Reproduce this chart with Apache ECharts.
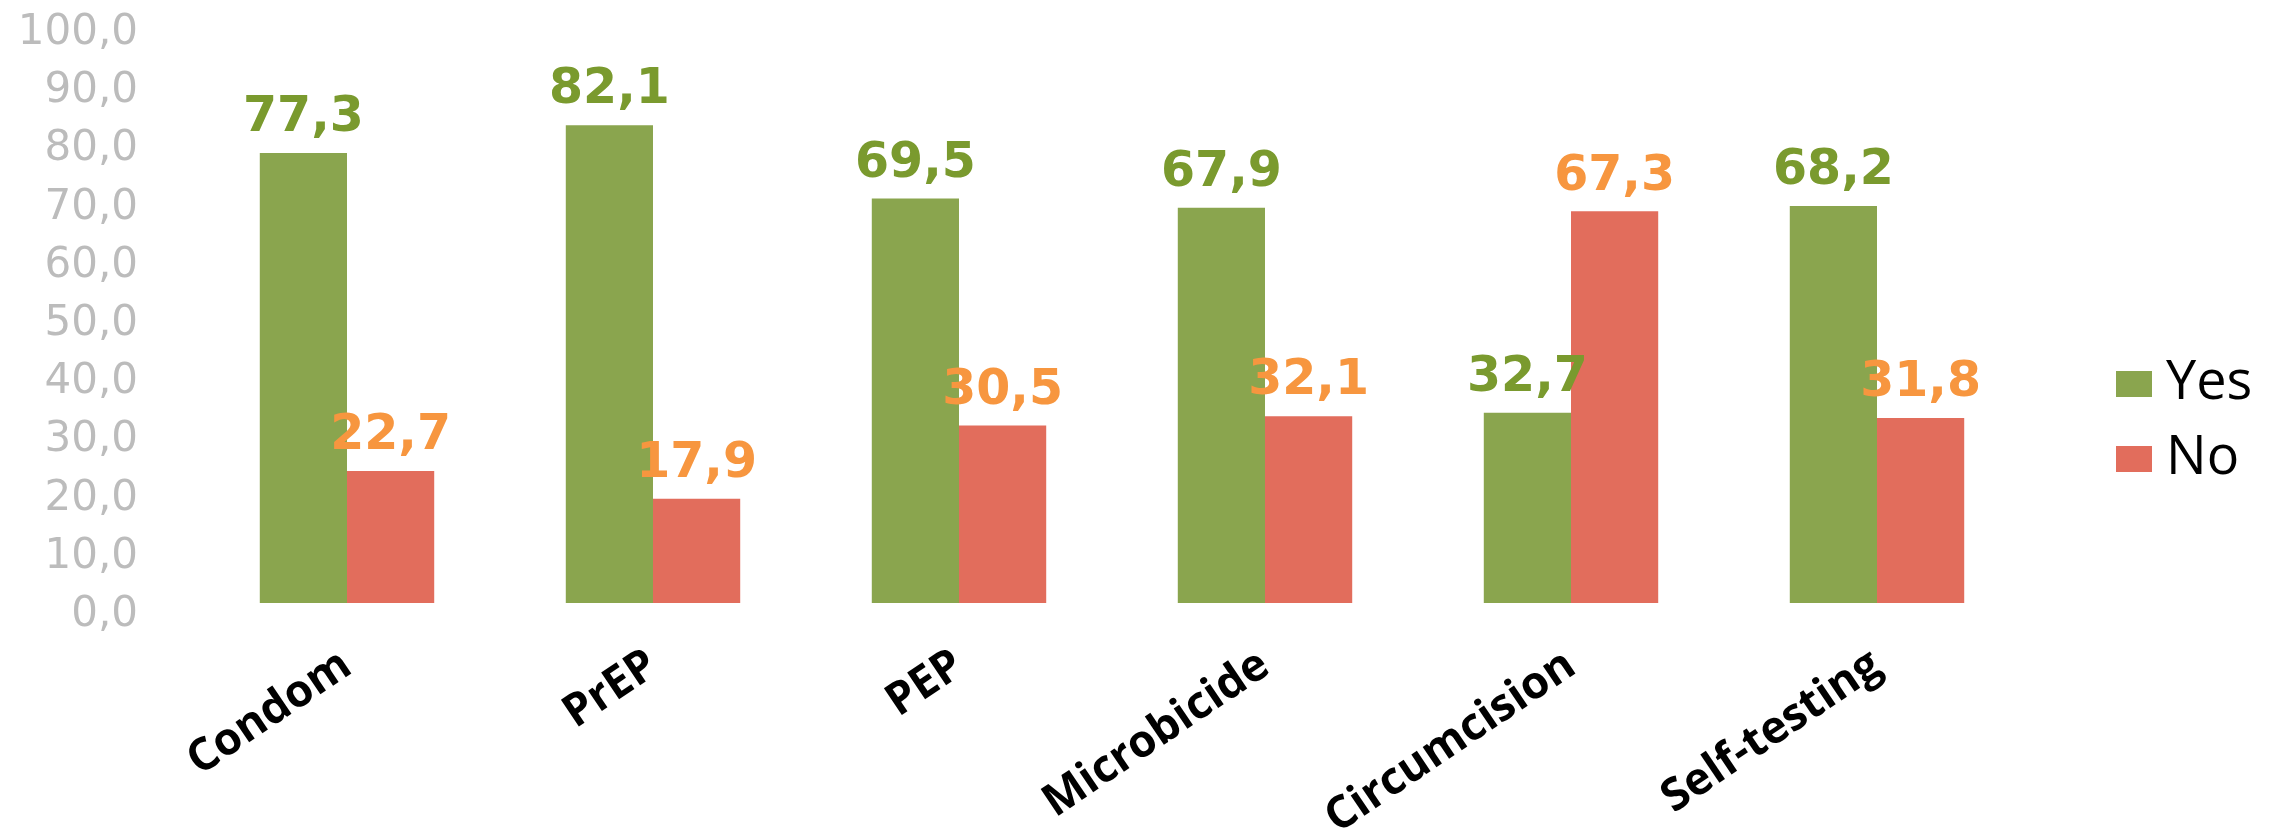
<!DOCTYPE html>
<html>
<head>
<meta charset="utf-8">
<script src="https://cdn.jsdelivr.net/npm/echarts@6/dist/echarts.min.js"></script>
<style>
html,body{margin:0;padding:0;background:#fff;}
#chart{width:2274px;height:838px;}
</style>
</head>
<body>
<div id="chart"></div>
<script>
const categories = ['Condom', 'PrEP', 'PEP', 'Microbicide', 'Circumcision', 'Self-testing'];
const seriesNames = ['Yes', 'No'];
const yesValues = [77.3, 82.1, 69.5, 67.9, 32.7, 68.2];
const noValues = [22.7, 17.9, 30.5, 32.1, 67.3, 31.8];
const yMin = 0, yMax = 100, yStep = 10;

const fmt = v => Number(v).toFixed(1).replace('.', ',');

const chart = echarts.init(document.getElementById('chart'), null, {renderer: 'canvas'});
chart.setOption({
  animation: false,
  backgroundColor: '#ffffff',
  grid: {left: 194, right: 244, top: 21, bottom: 235, containLabel: false, outerBoundsMode: 'none'},
  legend: {
    orient: 'vertical',
    left: 2111,
    top: 352,
    itemWidth: 36,
    itemHeight: 26,
    itemGap: 21,
    icon: 'rect',
    textStyle: {fontFamily: 'Open Sans', fontSize: 54, color: '#000', lineHeight: 54, padding: [0, 0, 0, 9]},
    data: seriesNames
  },
  xAxis: {
    type: 'category',
    data: categories,
    axisLine: {show: false},
    axisTick: {show: false},
    axisLabel: {
      rotate: 34,
      margin: 58,
      interval: 0,
      fontFamily: 'Open Sans',
      fontWeight: 'bold',
      fontSize: 45,
      color: '#000'
    }
  },
  yAxis: {
    type: 'value',
    min: yMin, max: yMax, interval: yStep,
    axisLine: {show: false},
    axisTick: {show: false},
    splitLine: {show: false},
    axisLabel: {
      margin: 56,
      fontFamily: 'DejaVu Sans',
      fontSize: 42,
      color: '#bcbcbc',
      verticalAlign: 'top',
      lineHeight: 24,
      formatter: fmt
    }
  },
  series: [
    {
      name: seriesNames[0],
      type: 'bar',
      data: yesValues,
      barGap: '0%',
      barCategoryGap: '43%',
      itemStyle: {color: '#8aa54e'},
      label: {
        show: true, position: 'top', distance: 10,
        fontFamily: 'DejaVu Sans', fontWeight: 'bold', fontSize: 49,
        color: '#7a9a2e',
        formatter: p => fmt(p.value)
      }
    },
    {
      name: seriesNames[1],
      type: 'bar',
      data: noValues,
      barGap: '0%',
      barCategoryGap: '43%',
      itemStyle: {color: '#e26d5c'},
      label: {
        show: true, position: 'top', distance: 10,
        fontFamily: 'DejaVu Sans', fontWeight: 'bold', fontSize: 49,
        color: '#f7963f',
        formatter: p => fmt(p.value)
      }
    }
  ]
});
</script>
</body>
</html>
